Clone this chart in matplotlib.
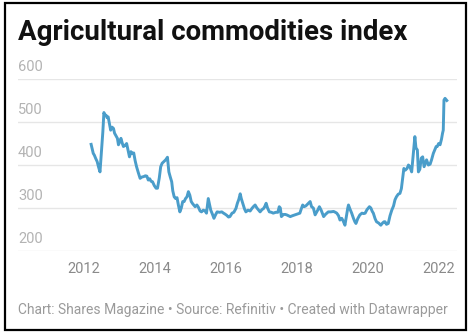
import matplotlib
matplotlib.use("Agg")
import matplotlib.pyplot as plt
from matplotlib.patches import Rectangle

plt.rcParams['font.family'] = ['Roboto', 'DejaVu Sans']

title = "Agricultural commodities index"
footer = "Chart: Shares Magazine \u2022 Source: Refinitiv \u2022 Created with Datawrapper"
y_ticks = [200, 300, 400, 500, 600]
x_ticks = [2012, 2014, 2016, 2018, 2020, 2022]

dates = [
    2012.20, 2012.23, 2012.26, 2012.29, 2012.33, 2012.37, 2012.41, 2012.45, 2012.50, 2012.53,
    2012.56, 2012.59, 2012.62, 2012.65, 2012.68, 2012.72, 2012.75, 2012.79, 2012.83, 2012.86,
    2012.90, 2012.94, 2012.97, 2013.01, 2013.04, 2013.08, 2013.11, 2013.15, 2013.20, 2013.24,
    2013.28, 2013.32, 2013.36, 2013.40, 2013.44, 2013.48, 2013.53, 2013.58, 2013.63, 2013.68,
    2013.73, 2013.77, 2013.81, 2013.85, 2013.89, 2013.93, 2013.98, 2014.03, 2014.07, 2014.12,
    2014.16, 2014.20, 2014.25, 2014.30, 2014.35, 2014.39, 2014.43, 2014.47, 2014.50, 2014.54,
    2014.58, 2014.62, 2014.66, 2014.70, 2014.74, 2014.78, 2014.82, 2014.86, 2014.90, 2014.94,
    2014.98, 2015.02, 2015.06, 2015.13, 2015.18, 2015.22, 2015.27, 2015.31, 2015.36, 2015.41,
    2015.45, 2015.50, 2015.53, 2015.57, 2015.62, 2015.66, 2015.71, 2015.75, 2015.82, 2015.88,
    2015.93, 2015.97, 2016.02, 2016.07, 2016.11, 2016.17, 2016.22, 2016.28, 2016.32, 2016.36,
    2016.40, 2016.43, 2016.47, 2016.52, 2016.56, 2016.62, 2016.68, 2016.73, 2016.77, 2016.82,
    2016.87, 2016.92, 2016.96, 2017.01, 2017.06, 2017.10, 2017.13, 2017.17, 2017.22, 2017.28,
    2017.33, 2017.40, 2017.46, 2017.50, 2017.53, 2017.56, 2017.62, 2017.67, 2017.71, 2017.76,
    2017.81, 2017.87, 2017.94, 2018.01, 2018.08, 2018.12, 2018.16, 2018.20, 2018.25, 2018.32,
    2018.37, 2018.41, 2018.46, 2018.51, 2018.55, 2018.59, 2018.63, 2018.68, 2018.75, 2018.80,
    2018.88, 2018.95, 2019.03, 2019.08, 2019.12, 2019.17, 2019.21, 2019.26, 2019.30, 2019.35,
    2019.39, 2019.43, 2019.45, 2019.49, 2019.54, 2019.59, 2019.63, 2019.66, 2019.71, 2019.77,
    2019.83, 2019.88, 2019.92, 2019.97, 2020.04, 2020.08, 2020.12, 2020.15, 2020.20, 2020.24,
    2020.30, 2020.36, 2020.41, 2020.45, 2020.48, 2020.52, 2020.57, 2020.62, 2020.67, 2020.72,
    2020.76, 2020.80, 2020.85, 2020.90, 2020.94, 2020.97, 2021.01, 2021.05, 2021.10, 2021.14,
    2021.18, 2021.23, 2021.27, 2021.32, 2021.35, 2021.39, 2021.42, 2021.46, 2021.50, 2021.54,
    2021.58, 2021.62, 2021.65, 2021.70, 2021.75, 2021.79, 2021.84, 2021.88, 2021.92, 2021.95,
    2021.99, 2022.03, 2022.07, 2022.10, 2022.12, 2022.14, 2022.17, 2022.22,
]
values = [
    448, 438, 427, 423, 415, 408, 395, 384, 440, 477,
    522, 515, 516, 510, 512, 495, 481, 488, 485, 474,
    468, 462, 447, 455, 462, 450, 443, 445, 450, 435,
    419, 431, 427, 428, 410, 396, 382, 369, 372, 373,
    375, 374, 365, 368, 362, 361, 352, 346, 346, 370,
    396, 404, 408, 412, 418, 384, 372, 361, 340, 326,
    322, 324, 306, 291, 300, 315, 315, 322, 326, 338,
    330, 315, 310, 303, 307, 302, 293, 291, 295, 293,
    288, 322, 310, 295, 285, 276, 285, 291, 290, 291,
    288, 286, 283, 279, 280, 288, 290, 299, 311, 320,
    333, 322, 311, 298, 291, 295, 293, 299, 303, 307,
    300, 295, 291, 296, 299, 305, 311, 300, 291, 290,
    288, 290, 290, 303, 300, 280, 285, 285, 284, 282,
    280, 282, 284, 286, 288, 298, 307, 303, 305, 311,
    315, 303, 300, 284, 290, 296, 303, 295, 280, 285,
    291, 291, 292, 290, 288, 282, 272, 276, 270, 260,
    280, 300, 307, 298, 288, 276, 268, 264, 275, 284,
    288, 287, 288, 296, 303, 300, 292, 288, 275, 268,
    265, 260, 265, 268, 268, 262, 264, 282, 295, 305,
    319, 326, 332, 334, 345, 365, 392, 388, 392, 400,
    396, 384, 420, 466, 440, 435, 384, 390, 416, 419,
    396, 405, 412, 400, 402, 412, 427, 435, 443, 443,
    450, 447, 460, 474, 481, 551, 555, 550,
]

W, H = 475, 335
fig = plt.figure(figsize=(W / 100, H / 100), dpi=100)
fig.patch.set_facecolor('white')

# frame border
fig.patches.append(Rectangle((5 / W, 1 - 330 / H), 461 / W, 327 / H, transform=fig.transFigure,
                             fill=False, edgecolor='black', linewidth=1.6))

ax = fig.add_axes([18 / W, 1 - 251 / H, 439 / W, 172 / H])
ax.plot(dates, values, color='#4a9dca', linewidth=2.1, solid_joinstyle='round', clip_on=False)
ax.set_xlim(2010.14, 2022.507)
ax.set_ylim(200, 600)
for s in ax.spines.values():
    s.set_visible(False)
ax.set_yticks(y_ticks)
ax.set_yticklabels([])
ax.tick_params(axis='y', length=0)
ax.grid(axis='y', color='#e6e6e6', linewidth=1.0)
ax.set_axisbelow(True)
for v in y_ticks:
    ax.text(0, v + 12, str(v), transform=ax.get_yaxis_transform(), ha='left', va='bottom',
            fontsize=10.5, color='#b3b3b3')
ax.set_xticks(x_ticks)
ax.set_xticklabels([str(t) for t in x_ticks], fontsize=10.5, color='#8a8a8a')
ax.tick_params(axis='x', length=0, pad=8)

t_title = fig.text(18 / W, 1 - 32 / H, title, fontsize=20, fontweight='bold', color='#111111',
                   ha='left', va='center')
t_foot = fig.text(18 / W, 1 - 310 / H, footer, fontsize=10, color='#9a9a9a', ha='left', va='center')

# fit text widths to the reference extents
renderer = fig.canvas.get_renderer()
for t, target in ((t_title, 407 - 18), (t_foot, 446 - 18)):
    w = t.get_window_extent(renderer).width
    t.set_fontsize(t.get_fontsize() * target / w)

fig.savefig('out.png', dpi=100, facecolor='white')
